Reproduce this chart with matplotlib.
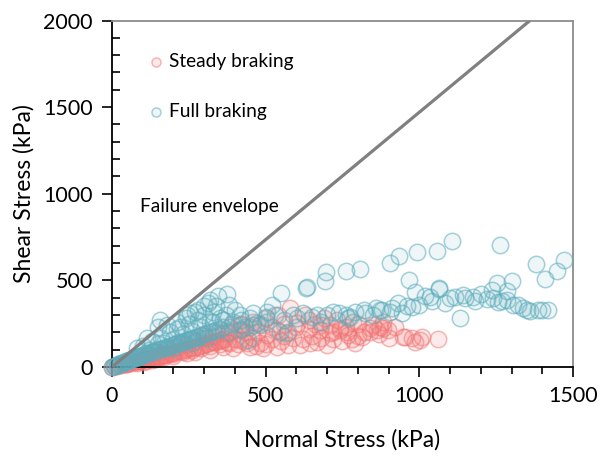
import matplotlib.pyplot as plt
from matplotlib.ticker import MultipleLocator

plt.rcParams["font.family"] = ["Lato", "DejaVu Sans"]

# Steady braking (kPa)
steady_x = [0, 8, 15, 22, 30, 38, 45, 52, 60, 68, 75, 82, 90, 98, 105, 112, 120, 128,
            135, 142, 150, 158, 165, 172, 180, 188, 195, 205, 215, 225, 235, 245, 255,
            265, 275, 285, 295, 305, 315, 325, 335, 345, 355, 365,
            60, 90, 120, 150, 180, 210, 240, 270, 300, 330, 360, 379, 395, 417, 433,
            471, 503, 536, 574, 601, 579, 628, 677, 709, 742, 769, 731,
            100, 130, 156, 200, 243, 270, 319, 362, 395, 373, 417, 449, 492, 536, 574,
            612, 644, 666, 699,
            400, 430, 460, 480, 520, 550, 560, 590, 620, 650, 680, 720, 750, 780, 800,
            820, 710, 660, 640, 690, 520, 480, 450, 420,
            742, 764, 785, 791, 813, 839, 850, 861, 872, 883, 883, 899, 948, 953, 975,
            986, 1002, 1008, 1062,
            50, 80, 110, 140, 170, 200, 230, 260, 290, 320, 350, 380, 410, 440, 470,
            500, 100, 140, 180, 220, 260, 300, 340, 380, 420, 460, 500, 540, 560, 600,
            640, 680, 720, 760, 800, 840, 870, 900, 920]
steady_y = [0, 4, 7, 10, 13, 16, 19, 22, 24, 27, 31, 33, 36, 40, 44, 46, 50, 52,
            56, 58, 62, 66, 68, 72, 75, 78, 82, 86, 90, 95, 98, 104, 108,
            112, 118, 122, 126, 132, 136, 142, 146, 150, 156, 160,
            40, 55, 70, 85, 100, 115, 130, 150, 165, 180, 195, 195, 205, 215, 204,
            204, 185, 214, 204, 253, 339, 301, 214, 195, 214, 185, 272,
            30, 40, 55, 62, 80, 88, 98, 117, 108, 146, 156, 117, 108, 117, 127,
            127, 137, 146, 127,
            160, 150, 170, 140, 160, 150, 180, 170, 160, 180, 170, 160, 150, 160, 180,
            200, 240, 250, 270, 280, 230, 250, 230, 240,
            224, 204, 262, 137, 175, 224, 243, 214, 233, 262, 224, 214, 172, 175, 166,
            146, 156, 175, 162,
            15, 25, 35, 45, 55, 75, 85, 100, 110, 120, 135, 140, 130, 140, 120,
            130, 65, 85, 110, 130, 160, 180, 200, 230, 250, 260, 280, 300, 250, 230,
            220, 240, 200, 230, 250, 200, 190, 170, 230]

# Full braking (kPa)
full_x = [0, 5, 10, 15, 20, 25, 30, 35, 40, 45, 50, 55, 60, 65, 70, 75, 80, 85, 90,
          95, 100, 108, 115, 122, 130, 138, 145, 152, 160, 168, 175, 182, 190, 198,
          205, 212, 220, 228, 235, 243, 250, 258, 265, 272, 280, 290, 300, 310, 320,
          330, 340, 350,
          80, 115, 151, 180, 210, 243, 281, 313, 346, 373, 362, 395, 433, 471, 444,
          319, 254, 156,
          417, 460, 503, 520, 547, 568, 549, 601, 631, 633, 666, 693, 696, 720, 761,
          769, 774, 807, 823, 850, 872, 905, 905, 932, 934, 943, 966, 975, 986, 992,
          1018, 1035, 1057, 1063, 1064, 1084, 1106, 1116, 1132, 1143, 1149, 1175,
          1219, 1237, 1253, 1256, 1263, 1284, 1284, 1300, 1305, 1337, 1360, 1379,
          1386, 1409, 1419, 1447, 1471,
          330, 360, 390, 420, 450, 480, 500, 530, 560, 590, 620, 650, 680, 700, 740,
          760, 790, 820, 860, 880, 910, 960, 1000, 1040, 1100, 1180, 1200, 1240,
          1270, 1320, 1350, 1400,
          100, 130, 160, 190, 220, 250, 280, 300, 330, 150, 200, 260, 120, 170, 230,
          290, 320, 350, 370, 400, 380, 340, 300, 270, 240, 210,
          200, 260, 310, 380, 420, 460, 500]
full_y = [0, 4, 8, 11, 15, 18, 22, 25, 29, 32, 36, 38, 42, 46, 50, 52, 56, 60, 63,
          66, 70, 74, 78, 82, 88, 92, 97, 101, 106, 110, 115, 118, 124, 128,
          132, 136, 140, 146, 150, 154, 158, 163, 168, 172, 176, 182, 188, 194, 200,
          206, 212, 218,
          110, 165, 230, 240, 260, 300, 330, 370, 410, 420, 272, 262, 233, 253, 156,
          387, 310, 272,
          301, 310, 320, 358, 204, 194, 429, 281, 455, 464, 301, 497, 551, 320, 555,
          281, 287, 566, 310, 301, 329, 320, 603, 368, 643, 310, 503, 349, 432, 665,
          410, 403, 669, 457, 449, 368, 730, 406, 281, 416, 399, 403,
          393, 445, 487, 377, 705, 387, 441, 499, 358, 341, 324, 595,
          329, 509, 329, 555, 618,
          260, 230, 250, 270, 280, 240, 290, 300, 270, 300, 310, 290, 260, 300, 310,
          300, 320, 330, 340, 330, 340, 350, 360, 380, 400, 380, 420, 400,
          380, 360, 330, 330,
          120, 150, 170, 200, 230, 250, 270, 300, 320, 130, 160, 210, 100, 140, 190,
          230, 260, 280, 300, 330, 360, 350, 350, 320, 280, 220,
          110, 140, 170, 200, 220, 240, 260]

# failure envelope end points
env_x = [0, 1360]
env_y = [0, 2000]

red = (0.95, 0.45, 0.45)
teal = (0.36, 0.68, 0.74)

fig, ax = plt.subplots(figsize=(6.11, 4.58), dpi=100)
fig.subplots_adjust(left=0.1833, right=0.9378, bottom=0.1987, top=0.9552)

ax.scatter(steady_x, steady_y, s=140, facecolor=red + (0.15,), edgecolor=red + (0.5,),
           linewidths=1.1, clip_on=False, zorder=2, label="Steady braking")
ax.scatter(full_x, full_y, s=140, facecolor=teal + (0.10,), edgecolor=teal + (0.55,),
           linewidths=1.1, clip_on=False, zorder=3, label="Full braking")
ax.plot(env_x, env_y, color="#808080", lw=2.3, zorder=4, solid_capstyle="butt")
ax.text(90, 925, "Failure envelope", fontsize=13.8, va="center", ha="left")

ax.set_xlim(0, 1500)
ax.set_ylim(0, 2000)
ax.xaxis.set_major_locator(MultipleLocator(500))
ax.xaxis.set_minor_locator(MultipleLocator(100))
ax.yaxis.set_major_locator(MultipleLocator(500))
ax.yaxis.set_minor_locator(MultipleLocator(100))
ax.tick_params(axis="both", which="major", direction="out", length=7, width=1.2,
               labelsize=15.5, pad=7)
ax.tick_params(axis="x", which="minor", direction="out", length=5, width=1.2)
ax.tick_params(axis="y", which="minor", direction="in", length=6, width=1.2)

for side in ["left", "bottom"]:
    ax.spines[side].set_color("black")
    ax.spines[side].set_linewidth(1.3)
for side in ["top", "right"]:
    ax.spines[side].set_color("#8c8c8c")
    ax.spines[side].set_linewidth(1.3)

ax.set_xlabel("Normal Stress (kPa)", fontsize=16.5, labelpad=16)
ax.set_ylabel("Shear Stress (kPa)", fontsize=16.5, labelpad=6)

ax.legend(loc="upper left", bbox_to_anchor=(0.063, 0.928), frameon=False,
          fontsize=13.8, markerscale=0.55, labelspacing=1.7, handlelength=0.8,
          handletextpad=0.25, borderaxespad=0)

fig.savefig("out.png", dpi=100)
